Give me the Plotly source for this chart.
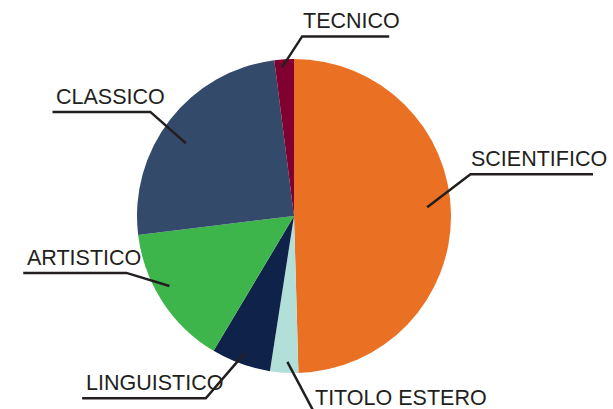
import math
import plotly.graph_objects as go

# ---------------- data ----------------
labels = ["SCIENTIFICO", "TITOLO ESTERO", "LINGUISTICO", "ARTISTICO", "CLASSICO", "TECNICO"]
values = [49.5, 2.9, 6.1, 14.5, 24.9, 2.0]
colors = ["#EA7024", "#B2E0D9", "#0F2249", "#3EB54B", "#344A6B", "#80002F"]

# ---------------- layout constants ----------------
W, H = 613, 409
DOM_X = [0.0, 588 / 613]
DOM_Y = [1 - 373 / 409, 1 - 59 / 409]
FS = 21.5
FONT = "Liberation Sans, Arial, sans-serif"
INK = "#231F20"

# leader-line styling per label: (start angle nudge, start radius, elbow angle nudge, elbow radius)
leader = {
    "SCIENTIFICO": (-3.0, 0.85, -12.5, 1.155),
    "TITOLO ESTERO": (-1.0, 0.93, -9.5, 1.26),
    "LINGUISTICO": (0.0, 0.93, 6.0, 1.29),
    "ARTISTICO": (3.75, 0.91, 14.3, 1.127),
    "CLASSICO": (-4.0, 0.83, -2.0, 1.13),
    "TECNICO": (-1.0, 0.95, 6.2, 1.145),
}

ARIAL_W = {"A": 667, "C": 722, "E": 667, "F": 611, "G": 778, "I": 278, "L": 556,
           "N": 722, "O": 778, "R": 722, "S": 667, "T": 611, "U": 722, " ": 278}


def text_w(s):
    return sum(ARIAL_W.get(c, 650) for c in s) * FS / 1000.0


fig = go.Figure(go.Pie(
    labels=labels, values=values, sort=False, direction="clockwise", rotation=0,
    marker=dict(colors=colors, line=dict(width=0)),
    textinfo="none", hoverinfo="label+percent", domain=dict(x=DOM_X, y=DOM_Y),
    showlegend=False,
))

# pie geometry in pixels
cx = W * (DOM_X[0] + DOM_X[1]) / 2
cy = H * (1 - (DOM_Y[0] + DOM_Y[1]) / 2)
R = min(W * (DOM_X[1] - DOM_X[0]), H * (DOM_Y[1] - DOM_Y[0])) / 2


def px(ang, r):
    a = math.radians(ang)
    return cx + r * math.sin(a), cy - r * math.cos(a)


def to_paper(x, y):
    return x / W, 1 - y / H


total = sum(values)
cum = 0.0
shapes, annos = [], []
for lab, v in zip(labels, values):
    a0 = cum / total * 360
    cum += v
    a1 = cum / total * 360
    mid = (a0 + a1) / 2
    sn, sr, en, er = leader[lab]
    x0, y0 = px(mid + sn, sr * R)
    x1, y1 = px(mid + en, er * R)
    L = 0.9 * text_w(lab)
    right = math.sin(math.radians(mid + en)) > 0
    x2 = x1 + L if right else x1 - L
    p0, p1, p2 = to_paper(x0, y0), to_paper(x1, y1), to_paper(x2, y1)
    shapes.append(dict(
        type="path", xref="paper", yref="paper",
        path=f"M {p0[0]} {p0[1]} L {p1[0]} {p1[1]} L {p2[0]} {p2[1]}",
        line=dict(color=INK, width=2.5),
    ))
    tx = x1 - 1 if right else x2 + 2
    tp = to_paper(tx, y1 - 1)
    annos.append(dict(
        x=tp[0], y=tp[1], xref="paper", yref="paper", text=lab, showarrow=False,
        xanchor="left", yanchor="bottom", font=dict(family=FONT, size=FS, color=INK),
    ))

fig.update_layout(
    width=W, height=H, margin=dict(l=0, r=0, t=0, b=0),
    paper_bgcolor="white", plot_bgcolor="white",
    shapes=shapes, annotations=annos,
)

fig.write_html(
    "out.html",
    config={"displayModeBar": False},
    post_script="document.body.style.margin='0';document.body.style.overflow='hidden';",
)
